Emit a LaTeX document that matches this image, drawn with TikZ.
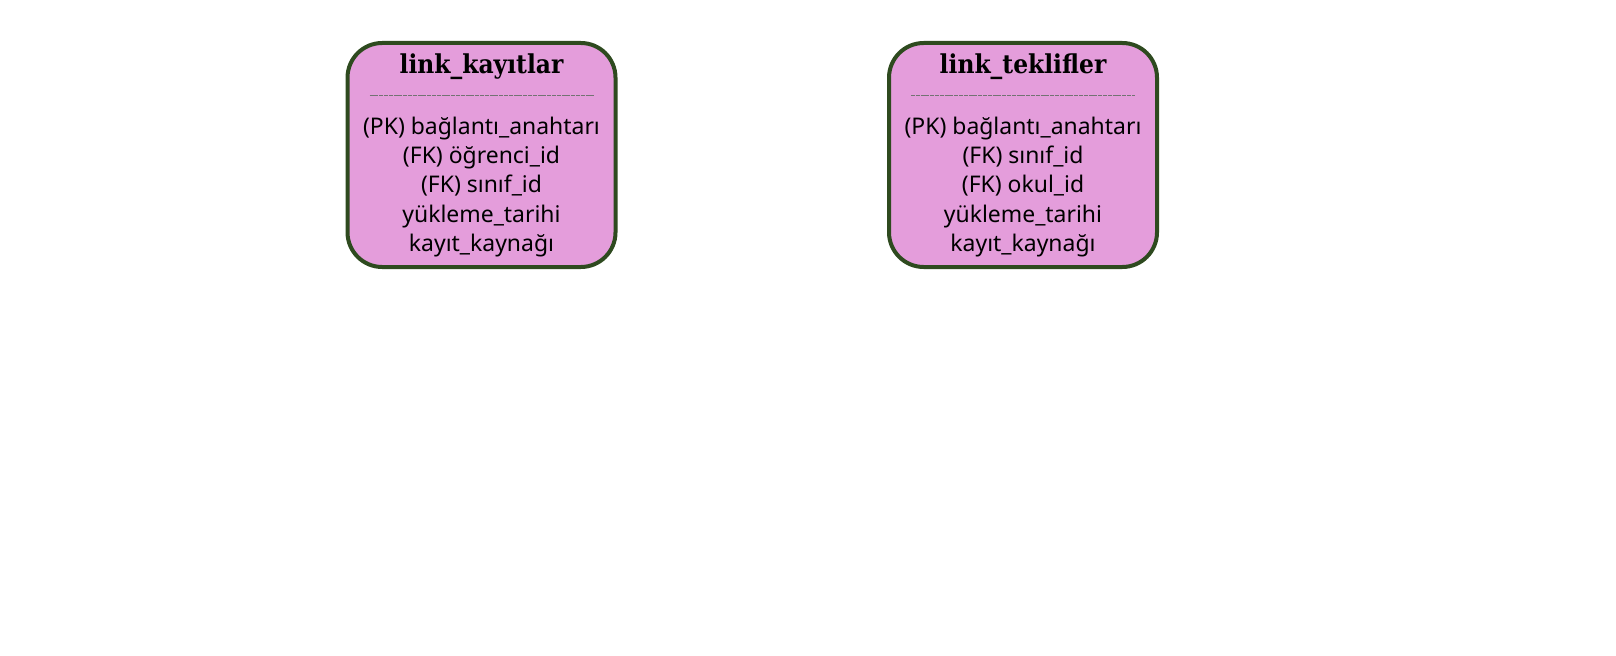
\documentclass[tikz,border=0pt]{standalone}
\usepackage{fontspec}
\setmainfont{Noto Sans}
\newfontfamily\baslikfont{DejaVu Serif Condensed}
\usepackage{tikz}
\usetikzlibrary{calc}
\definecolor{pembe}{HTML}{E49DDB}
\definecolor{kenar}{HTML}{2E4A1F}
\tikzstyle{every node}=[font=\fontsize{17.2}{22}\selectfont]

\begin{document}
\begin{tikzpicture}[x=0.75pt,y=-0.75pt]
    \tikzstyle{tablo}=[draw=kenar, fill=pembe, line width=3pt, rounded corners=26pt, minimum width=201pt, minimum height=168pt]
    \tikzstyle{baslik}=[font=\baslikfont\bfseries\fontsize{19.5}{22}\selectfont]
    \tikzstyle{alanlar}=[align=center, inner sep=0pt]
    \tikzstyle{ayrac}=[black!55, line width=0.6pt, dash pattern=on 3pt off 0.6pt]
    \useasboundingbox (0,0) rectangle (1616,656);

    \node[tablo] (kayitlar) at (481.5,155) {};
    \node[tablo] (teklifler) at (1023,155) {};

    \node[baslik] (kayitlar-baslik) at (481.5,67) {link\_kayıtlar};
    \node[baslik] (teklifler-baslik) at (1023,67) {link\_teklifler};

    \draw [ayrac] ($(kayitlar.west)+(24,-60)$) -- ($(kayitlar.east)+(-24,-60)$);
    \draw [ayrac] ($(teklifler.west)+(24,-60)$) -- ($(teklifler.east)+(-24,-60)$);

    \node[alanlar] (kayitlar-alanlar) at (481.5,187) {(PK) bağlantı\_anahtarı\\(FK) öğrenci\_id\\(FK) sınıf\_id\\yükleme\_tarihi\\kayıt\_kaynağı};
    \node[alanlar] (teklifler-alanlar) at (1023,187) {(PK) bağlantı\_anahtarı\\(FK) sınıf\_id\\(FK) okul\_id\\yükleme\_tarihi\\kayıt\_kaynağı};
\end{tikzpicture}
\end{document}
